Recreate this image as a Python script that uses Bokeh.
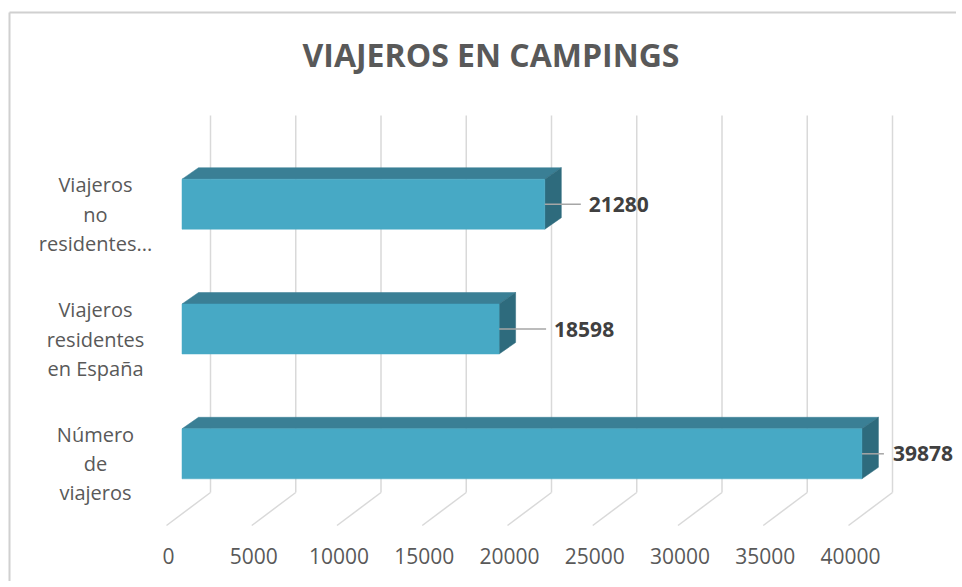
from bokeh.plotting import figure
from bokeh.models import Range1d
from bokeh.core.properties import value
from bokeh.embed import file_html
from bokeh.resources import INLINE

# ---------------- data ----------------
title_text = "VIAJEROS EN CAMPINGS"
categories = ["Número de viajeros", "Viajeros residentes en España", "Viajeros no residentes..."]
category_lines = [["Número", "de", "viajeros"],
                  ["Viajeros", "residentes", "en España"],
                  ["Viajeros", "no", "residentes..."]]
values = [39878, 18598, 21280]
ticks = [0, 5000, 10000, 15000, 20000, 25000, 30000, 35000, 40000]
tick_labels = ["0", "5000", "10000", "15000", "20000", "25000", "30000", "35000", "40000"]

# ---------------- layout (pixels) ----------------
W, H = 956, 581
OFF = 0              # canvas origin in the screenshot
S = 0.01705          # px per value unit
X0 = 210 - OFF       # canvas x of value 0 on back wall
STEP = 124.8         # px per category
Y0 = 453.3 - OFF     # canvas y of first category (front face centre)

def ux(px):   # horizontal pixel length -> data units
    return px / S

def uy(px):   # vertical pixel length -> data units
    return px / STEP

def img_x(ix):  # screenshot pixel x -> data x
    return (ix - OFF - X0) / S

def img_y(iy):  # screenshot pixel y -> data y
    return (Y0 - (iy - OFF)) / STEP

p = figure(width=W, height=H, output_backend="svg", toolbar_location=None,
           x_range=Range1d(-X0 / S, (W - X0) / S),
           y_range=Range1d((Y0 - H) / STEP, Y0 / STEP),
           x_axis_location=None, y_axis_location=None, min_border=0)
p.grid.visible = False
p.outline_line_color = None
p.background_fill_color = "white"
p.border_fill_color = "white"

FONT = value("Open Sans")
GRID = "#d9d9d9"

# chart border (top & left visible)
p.line([img_x(9), img_x(970)], [img_y(12), img_y(12)], line_color="#d0d0d0", line_width=2)
p.line([img_x(9), img_x(9)], [img_y(12), img_y(600)], line_color="#d0d0d0", line_width=2)

# back-wall gridlines and floor lines
g_top, g_bot, f_bot = img_y(115), img_y(492), img_y(525)
for t in ticks:
    p.line([t, t], [g_top, g_bot], line_color=GRID, line_width=1.5)
    p.line([t, t - ux(44)], [g_bot, f_bot], line_color=GRID, line_width=1.5)

# 3D bars
FRONT0 = -ux(28.5)
HALF = uy(25)
DX, DY = ux(16.5), uy(11.5)
front_xs, front_ys, top_xs, top_ys, side_xs, side_ys = [], [], [], [], [], []
for k, v in enumerate(values):
    a, b = FRONT0, FRONT0 + v
    lo, hi = k - HALF, k + HALF
    front_xs.append([a, b, b, a]); front_ys.append([lo, lo, hi, hi])
    top_xs.append([a, b, b + DX, a + DX]); top_ys.append([hi, hi, hi + DY, hi + DY])
    side_xs.append([b, b + DX, b + DX, b]); side_ys.append([lo, lo + DY, hi + DY, hi])

p.patches(top_xs, top_ys, fill_color="#3a7f95", line_color="#3a7f95", line_width=0.5)
p.patches(side_xs, side_ys, fill_color="#2e6b7d", line_color="#2e6b7d", line_width=0.5)
p.patches(front_xs, front_ys, fill_color="#47a9c5", line_color="#47a9c5", line_width=0.5)

# leader lines and value labels
leader_px = [22, 47, 36]
label_px = [31, 55, 44]
for k, v in enumerate(values):
    b = FRONT0 + v
    p.line([b, b + ux(leader_px[k])], [k, k], line_color="#a6a6a6", line_width=1.5)
p.text(x=[FRONT0 + v + ux(label_px[k]) for k, v in enumerate(values)],
       y=[k for k in range(len(values))],
       text=[str(v) for v in values],
       text_font=FONT, text_font_style="bold", text_font_size="21px",
       text_color="#404040", text_align="left", text_baseline="middle")

# category labels (3 lines each, centred per line)
line_px = [-19.5, 10, 39]
cx, cy, ct = [], [], []
for k, lines in enumerate(category_lines):
    for j, line in enumerate(lines):
        cx.append(img_x(95))
        cy.append(k - uy(line_px[j]))
        ct.append(line)
p.text(x=cx, y=cy, text=ct, text_font=FONT, text_font_size="20px",
       text_color="#595959", text_align="center", text_baseline="middle")

# value-axis tick labels at the floor front edge
p.text(x=[t - ux(42) for t in ticks], y=[img_y(555.5)] * len(ticks), text=tick_labels,
       text_font=FONT, text_font_size="21px", text_color="#595959",
       text_align="center", text_baseline="middle")

# title
p.text(x=[img_x(490.5)], y=[img_y(53.5)], text=[title_text], text_font=FONT,
       text_font_style="bold", text_font_size="32px", text_color="#595959",
       text_align="center", text_baseline="middle")

open("out.html", "w").write(file_html(p, INLINE))
